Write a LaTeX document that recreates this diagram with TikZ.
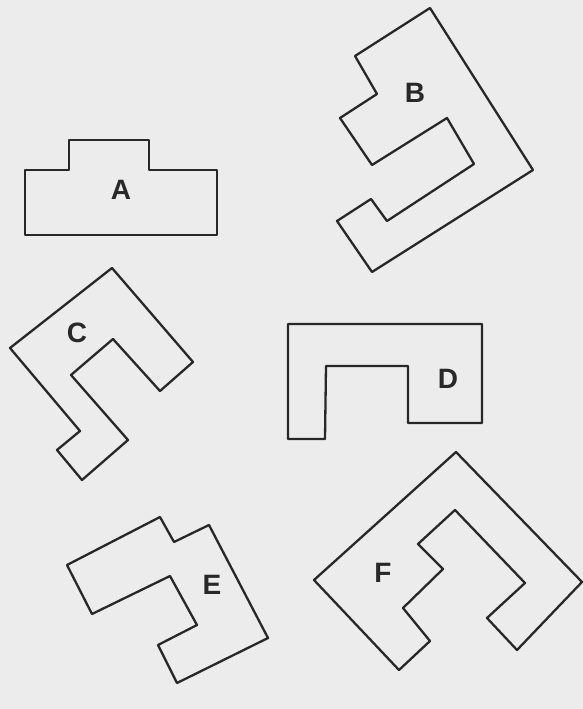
\documentclass[tikz,border=0pt]{standalone}
\usepackage{fontspec}
\setsansfont{Liberation Sans}
\usepackage{tikz}
\usetikzlibrary{positioning}
\definecolor{paper}{RGB}{236,236,236}
\definecolor{ink}{RGB}{40,40,40}

\begin{document}
\begin{tikzpicture}[x=1pt, y=-1pt, line join=round,
    piece/.style={draw=ink, line width=2.3pt},
    every node/.style={font=\sffamily\bfseries\fontsize{28}{28}\selectfont, text=ink}]
    \fill[paper] (0,0) rectangle (583,709);
    \useasboundingbox (0,0) rectangle (583,709);
    % A
    \draw[piece] (69,140) -- (149,140) -- (149,170) -- (217,170) -- (217,235) -- (25,235) -- (25,170) -- (69,170) -- cycle;
    \node (A) at (121,190) {A};
    % B
    \draw[piece] (430,8) -- (533,170) -- (372,272) -- (337,221) -- (371,199) -- (387,221) -- (474,164) -- (447,118) -- (372,165) -- (340,118) -- (377,94) -- (355,56) -- cycle;
    \node (B) at (415,93) {B};
    % C
    \draw[piece] (112,268) -- (193,362) -- (160,391) -- (113,339) -- (71,375) -- (128,440) -- (82,480) -- (57,450) -- (80,431) -- (10,348) -- cycle;
    \node (C) at (77,333) {C};
    % D
    \draw[piece] (288,324) -- (482,324) -- (482,423) -- (408,423) -- (408,366) -- (326,366) -- (325,439) -- (288,439) -- cycle;
    \node (D) at (448,379) {D};
    % E
    \draw[piece] (160,517) -- (174,542) -- (209,525) -- (268,638) -- (177,683) -- (158,645) -- (197,625) -- (170,576) -- (92,614) -- (67,565) -- cycle;
    \node (E) at (212,585) {E};
    % F
    \draw[piece] (456,452) -- (582,582) -- (517,650) -- (487,618) -- (525,583) -- (455,510) -- (418,544) -- (443,569) -- (403,608) -- (430,641) -- (399,670) -- (314,580) -- cycle;
    \node (F) at (383,573) {F};
\end{tikzpicture}
\end{document}
